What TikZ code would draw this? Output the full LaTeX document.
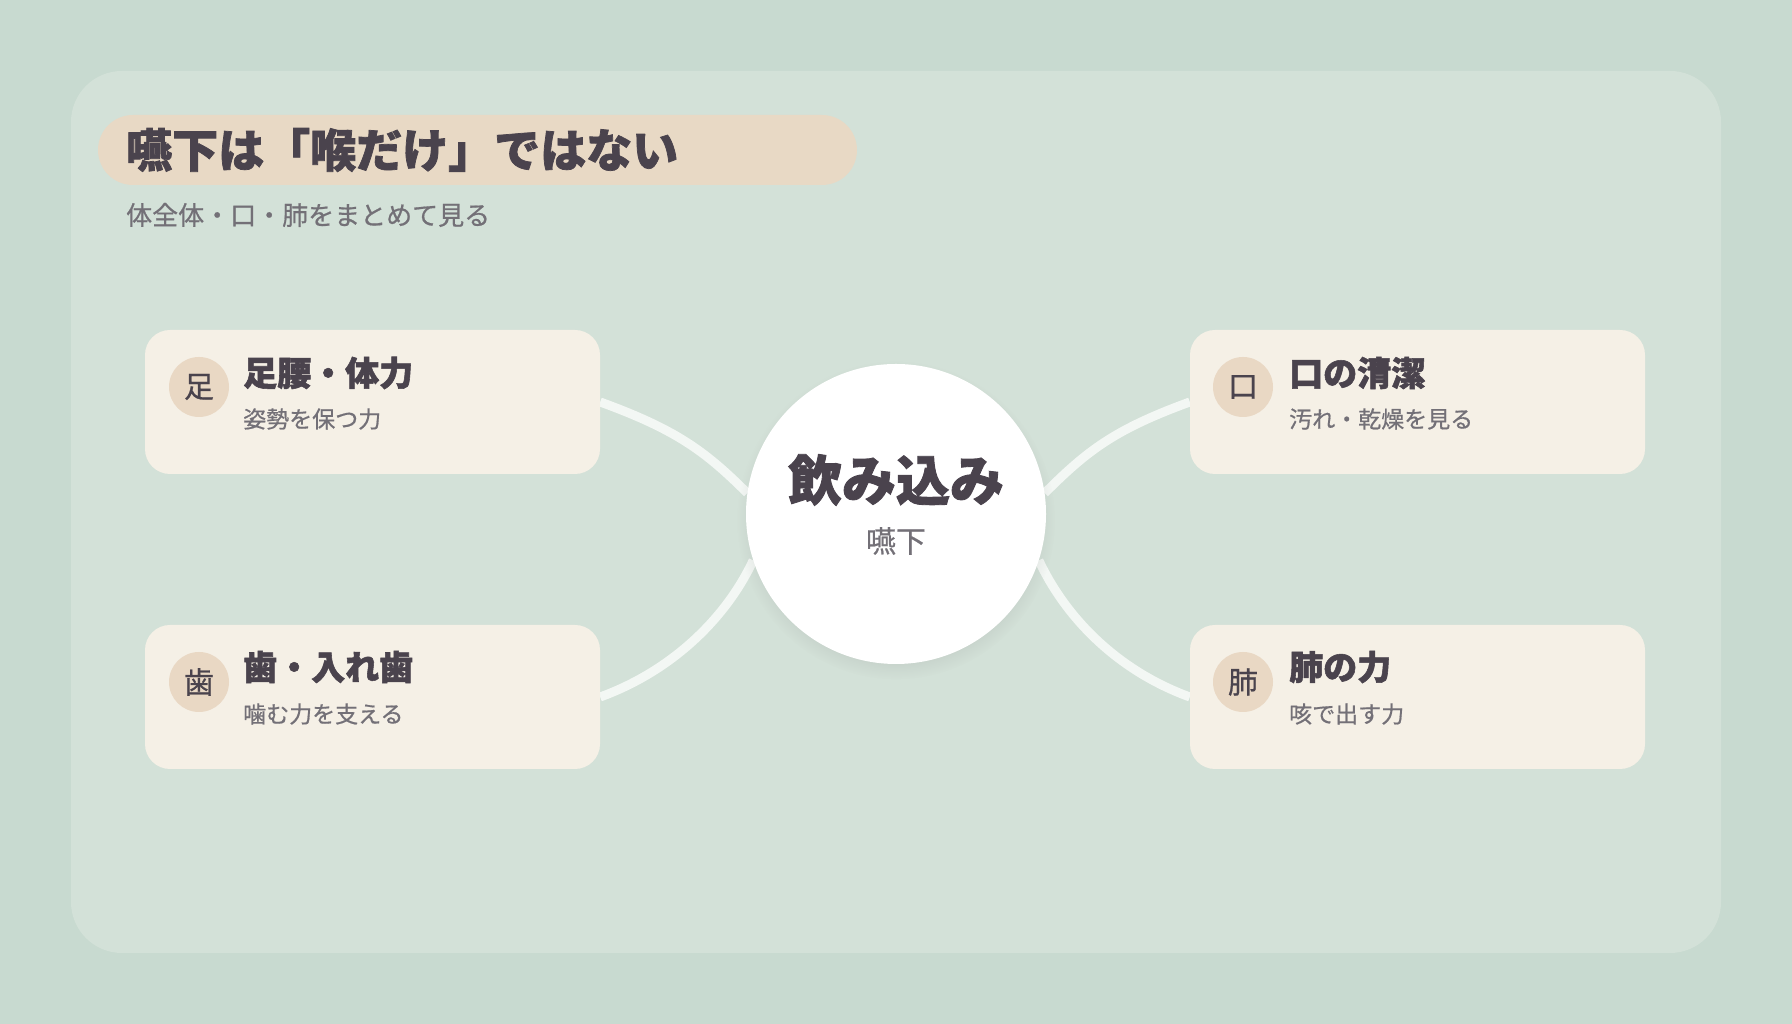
\documentclass[tikz,border=0pt]{standalone}
\usepackage{fontspec}
\setmainfont{Noto Sans CJK JP}
\newfontfamily\heavyfont{Noto Sans CJK JP}[BoldFeatures={FakeBold=1.6}]
\newfontfamily\medfont{Noto Sans CJK JP}[UprightFeatures={FakeBold=0.7}]
\usepackage{xcolor}
\usetikzlibrary{positioning, shadows}
\definecolor{outerbg}{HTML}{C8DAD0}
\definecolor{panelbg}{HTML}{D3E1D8}
\definecolor{pillfill}{HTML}{E8D9C5}
\definecolor{cardfill}{HTML}{F5F0E6}
\definecolor{badgefill}{HTML}{E9D8C4}
\definecolor{ink}{HTML}{4A434D}
\definecolor{inkgray}{HTML}{737077}
\definecolor{linkcol}{HTML}{F3F7F4}
\pgfdeclarelayer{bg}
\pgfdeclarelayer{links}
\pgfsetlayers{bg,links,main}
\tikzset{
    card/.style={rectangle, rounded corners=25pt, minimum width=455pt, minimum height=144pt, fill=cardfill, draw=none},
    badge/.style={circle, minimum size=60pt, inner sep=0pt, fill=badgefill, text=ink, font=\fontsize{30}{30}\selectfont\medfont},
    ttl/.style={anchor=west, inner sep=0pt, text=ink, font=\fontsize{34}{34}\selectfont\heavyfont\bfseries},
    subtxt/.style={anchor=west, inner sep=0pt, text=inkgray, font=\fontsize{23}{23}\selectfont\medfont},
    link/.style={line width=9pt, draw=linkcol}
}

\begin{document}
\begin{tikzpicture}[
        x=1pt, y=1pt,
        % Define styles
        pill/.style={rectangle, rounded corners=35pt, minimum width=759pt, minimum height=70pt, fill=pillfill, draw=none},
        hubstyle/.style={circle, minimum size=300pt, inner sep=0pt, fill=white,
            circular drop shadow={shadow xshift=0pt, shadow yshift=-6pt, shadow scale=1.06, opacity=0.18}}
    ]

        % --- Background ---
        \begin{pgfonlayer}{bg}
            \fill[outerbg] (0,0) rectangle (1792,1024);
            \fill[panelbg, rounded corners=51pt] (71,71) rectangle (1721,953);
        \end{pgfonlayer}
        \useasboundingbox (0,0) rectangle (1792,1024);

        % --- Heading ---
        \node (titlebar) [pill] at (477.5,874) {};
        \node (title) [anchor=west, inner sep=0pt, text=ink, font=\fontsize{46}{46}\selectfont\heavyfont\bfseries] at (126,874) {嚥下は「喉だけ」ではない};
        \node (subtitle) [subtxt, font=\fontsize{26}{26}\selectfont\medfont] at (126,809) {体全体・口・肺をまとめて見る};

        % --- Hub ---
        \node (hub) [hubstyle] at (896,510) {};
        \node (hubmain) [inner sep=0pt, text=ink, font=\fontsize{54}{54}\selectfont\heavyfont\bfseries] at (896,544) {飲み込み};
        \node (hubsub) [inner sep=0pt, text=inkgray, font=\fontsize{30}{30}\selectfont\medfont] at (896,483) {嚥下};

        % --- Cards ---
        \node (legs) [card] at (372.5,622) {};
        \node (legsbadge) [badge] at (199,637) {足};
        \node (legstitle) [ttl] at (243,651) {足腰・体力};
        \node (legssub) [subtxt] at (243,605) {姿勢を保つ力};

        \node (teeth) [card] at (372.5,327) {};
        \node (teethbadge) [badge] at (199,342) {歯};
        \node (teethtitle) [ttl] at (243,357) {歯・入れ歯};
        \node (teethsub) [subtxt] at (243,310) {噛む力を支える};

        \node (mouth) [card] at (1417.5,622) {};
        \node (mouthbadge) [badge] at (1243,637) {口};
        \node (mouthtitle) [ttl] at (1289,651) {口の清潔};
        \node (mouthsub) [subtxt] at (1289,605) {汚れ・乾燥を見る};

        \node (lung) [card] at (1417.5,327) {};
        \node (lungbadge) [badge] at (1243,342) {肺};
        \node (lungtitle) [ttl] at (1289,357) {肺の力};
        \node (lungsub) [subtxt] at (1289,310) {咳で出す力};

        % --- Connectors (under the hub) ---
        \begin{pgfonlayer}{links}
            \draw [link] (legs.east) .. controls +(-20:80) and +(135:60) .. (hub.172);
            \draw [link] (teeth.east) .. controls +(20:80) and +(-115:60) .. (hub.198);
            \draw [link] (mouth.west) .. controls +(200:80) and +(45:60) .. (hub.8);
            \draw [link] (lung.west) .. controls +(160:80) and +(-65:60) .. (hub.342);
        \end{pgfonlayer}

    \end{tikzpicture}
\end{document}
